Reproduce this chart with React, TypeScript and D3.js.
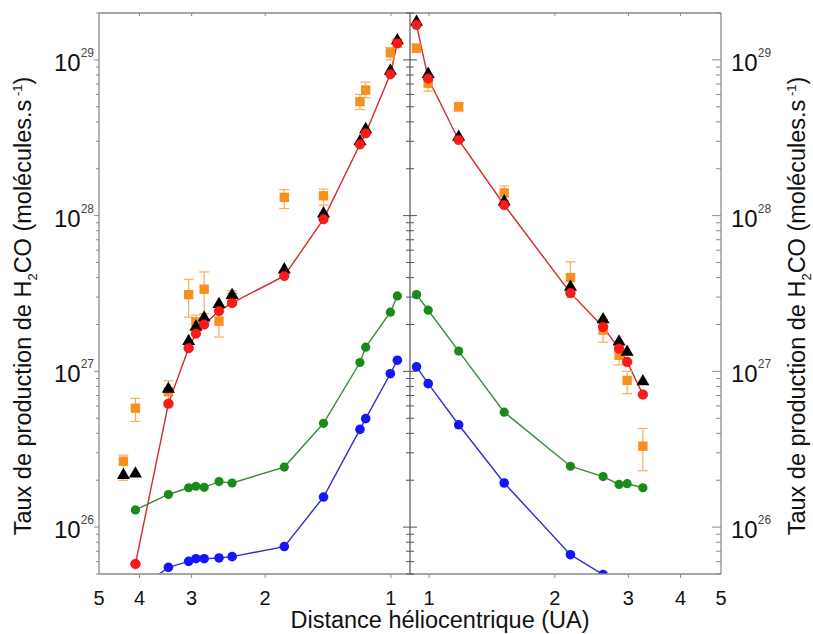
import React from "react";
import * as d3 from "d3";

// Heliocentric distances (AU)
const rPre = [4.37, 4.09, 3.41, 3.05, 2.93, 2.8, 2.58, 2.4, 1.8, 1.45, 1.186, 1.149, 1.003, 0.965];
const rPost = [0.933, 0.995, 1.177, 1.513, 2.18, 2.61, 2.85, 2.98, 3.25];

// Pre-perihelion (left panel)
const redPre = [null, 5.8e25, 6.2e26, 1.41e27, 1.75e27, 2.0e27, 2.44e27, 2.75e27, 4.1e27, 9.5e27, 2.87e28, 3.38e28, 8.1e28, 1.28e29];
const blackPre = [2.15e26, 2.2e26, 7.7e26, 1.56e27, 1.93e27, 2.21e27, 2.7e27, 3.08e27, 4.5e27, 1.03e28, 2.99e28, 3.58e28, 8.5e28, 1.33e29];
const orangePre = [2.65e26, 5.8e26, 7.4e26, 3.11e27, 2.08e27, 3.37e27, 2.1e27, 3.0e27, 1.31e28, 1.34e28, 5.4e28, 6.4e28, 1.11e29, 1.28e29];
const orangePreLo = [2.0e26, 4.77e26, 5.9e26, 2.23e27, 1.85e27, 2.35e27, 1.66e27, 2.7e27, 1.11e28, 1.17e28, 4.8e28, 5.7e28, 1.0e29, 1.2e29];
const orangePreHi = [2.9e26, 6.7e26, 8.7e26, 3.9e27, 2.3e27, 4.35e27, 2.6e27, 3.3e27, 1.47e28, 1.48e28, 6.0e28, 7.2e28, 1.2e29, 1.36e29];
const greenPre = [null, 1.29e26, 1.62e26, 1.79e26, 1.83e26, 1.8e26, 1.96e26, 1.92e26, 2.43e26, 4.64e26, 1.14e27, 1.43e27, 2.4e27, 3.05e27];
const bluePre = [null, 3.85e25, 5.52e25, 6.03e25, 6.27e25, 6.27e25, 6.34e25, 6.46e25, 7.5e25, 1.56e26, 4.24e26, 4.97e26, 9.66e26, 1.18e27];

// Post-perihelion (right panel)
const redPost = [1.68e29, 7.6e28, 3.06e28, 1.17e28, 3.19e27, 1.93e27, 1.4e27, 1.15e27, 7.1e26];
const blackPost = [1.75e29, 8.1e28, 3.2e28, 1.23e28, 3.48e27, 2.15e27, 1.55e27, 1.33e27, 8.6e26];
const orangePost = [1.19e29, 7.08e28, 5.0e28, 1.4e28, 4.0e27, 1.84e27, 1.27e27, 8.75e26, 3.31e26];
const orangePostLo = [1.12e29, 6.3e28, 4.7e28, 1.25e28, 2.98e27, 1.54e27, 1.1e27, 7.2e26, 2.3e26];
const orangePostHi = [1.26e29, 7.6e28, 5.3e28, 1.55e28, 5.05e27, 2.15e27, 1.45e27, 1.0e27, 4.3e26];
const greenPost = [3.11e27, 2.47e27, 1.35e27, 5.47e26, 2.46e26, 2.11e26, 1.88e26, 1.9e26, 1.79e26];
const bluePost = [1.07e27, 8.34e26, 4.54e26, 1.92e26, 6.65e25, 4.96e25, null, null, null];

const xTicks = [1, 2, 3, 4, 5];
const yMajor = [1e26, 1e27, 1e28, 1e29];
const yExp = ["26", "27", "28", "29"];

const FONT = "Arial, 'Liberation Sans', sans-serif";
const C = {
  red: "#ff1a1a",
  redLine: "#d42a2a",
  green: "#1a8a1a",
  greenLine: "#3b8a3b",
  blue: "#1414ff",
  blueLine: "#3030c8",
  orange: "#f7901e",
  err: "#f0b060",
  axis: "#8a8a8a",
};

const W = 813, H = 634;
const top = 13, bottom = 574, left = 99, mid = 410, right = 721;

export default function App() {
  const y = d3.scaleLog().domain([5e25, 2e29]).range([bottom, top]);
  const xL = d3.scaleLog().domain([5, 0.9]).range([left, mid]);
  const xR = d3.scaleLog().domain([0.9, 5]).range([mid, right]);

  const minors: number[] = [];
  for (let e = 25; e <= 29; e++) {
    for (let k = 1; k <= 9; k++) {
      const v = k * Math.pow(10, e);
      if (v >= 5e25 && v <= 2e29 && k !== 1) minors.push(v);
    }
  }

  const tri = d3.symbol().type(d3.symbolTriangle).size(74)();
  const sq = d3.symbol().type(d3.symbolSquare).size(88)();

  const panel = (
    id: string,
    x: d3.ScaleLogarithmic<number, number>,
    rs: number[],
    red: (number | null)[],
    black: (number | null)[],
    orange: (number | null)[],
    lo: (number | null)[],
    hi: (number | null)[],
    green: (number | null)[],
    blue: (number | null)[]
  ) => {
    const pts = (arr: (number | null)[]) =>
      rs.map((r, i) => [r, arr[i]] as [number, number | null]).filter((d) => d[1] != null) as [number, number][];
    const line = d3
      .line<[number, number]>()
      .x((d) => x(d[0]))
      .y((d) => y(d[1]));
    return (
      <g clipPath={`url(#${id})`}>
        <path d={line(pts(red)) || ""} fill="none" stroke={C.redLine} strokeWidth={1.4} />
        <path d={line(pts(green)) || ""} fill="none" stroke={C.greenLine} strokeWidth={1.4} />
        <path d={line(pts(blue)) || ""} fill="none" stroke={C.blueLine} strokeWidth={1.4} />
        {rs.map((r, i) =>
          orange[i] == null ? null : (
            <g key={"e" + i} stroke={C.err} strokeWidth={1.2}>
              <line x1={x(r)} x2={x(r)} y1={y(lo[i] as number)} y2={y(hi[i] as number)} />
              <line x1={x(r) - 5} x2={x(r) + 5} y1={y(lo[i] as number)} y2={y(lo[i] as number)} />
              <line x1={x(r) - 5} x2={x(r) + 5} y1={y(hi[i] as number)} y2={y(hi[i] as number)} />
            </g>
          )
        )}
        {pts(orange).map((d, i) => (
          <path key={"o" + i} d={sq || ""} transform={`translate(${x(d[0])},${y(d[1])})`} fill={C.orange} />
        ))}
        {pts(black).map((d, i) => (
          <path key={"b" + i} d={tri || ""} transform={`translate(${x(d[0])},${y(d[1])})`} fill="#000" />
        ))}
        {pts(red).map((d, i) => (
          <circle key={"r" + i} cx={x(d[0])} cy={y(d[1])} r={4.8} fill={C.red} stroke="#d00000" strokeWidth={0.6} />
        ))}
        {pts(green).map((d, i) => (
          <circle key={"g" + i} cx={x(d[0])} cy={y(d[1])} r={4.6} fill={C.green} />
        ))}
        {pts(blue).map((d, i) => (
          <circle key={"u" + i} cx={x(d[0])} cy={y(d[1])} r={4.8} fill={C.blue} />
        ))}
      </g>
    );
  };

  const ylab = (
    <>
      Taux de production de H
      <tspan fontSize={13} dy={6}>2</tspan>
      <tspan dy={-6}>CO (molécules.s</tspan>
      <tspan fontSize={13} dy={-9}> -1</tspan>
      <tspan dy={9}>)</tspan>
    </>
  );

  return (
    <svg width={W} height={H} style={{ position: "absolute", left: 0, top: 0, background: "#fff" }} fontFamily={FONT}>
      <defs>
        <clipPath id="cl">
          <rect x={left} y={top} width={mid - left} height={bottom - top} />
        </clipPath>
        <clipPath id="cr">
          <rect x={mid} y={top} width={right - mid} height={bottom - top} />
        </clipPath>
      </defs>
      <rect x={0} y={0} width={W} height={H} fill="#fff" />

      {panel("cl", xL, rPre, redPre, blackPre, orangePre, orangePreLo, orangePreHi, greenPre, bluePre)}
      {panel("cr", xR, rPost, redPost, blackPost, orangePost, orangePostLo, orangePostHi, greenPost, bluePost)}

      {/* frame */}
      <g stroke={C.axis} strokeWidth={1.3} fill="none">
        <line x1={left} x2={right} y1={top} y2={top} />
        <line x1={left} x2={right} y1={bottom} y2={bottom} />
        <line x1={left} x2={left} y1={top} y2={bottom} />
        <line x1={right} x2={right} y1={top} y2={bottom} />
      </g>
      <line x1={mid} x2={mid} y1={top} y2={bottom} stroke="#555" strokeWidth={1.2} />

      {/* y ticks */}
      <g stroke={C.axis} strokeWidth={1}>
        {yMajor.map((v) => (
          <g key={"ym" + v}>
            <line x1={left - 5} x2={left} y1={y(v)} y2={y(v)} />
            <line x1={mid - 7} x2={mid + 7} y1={y(v)} y2={y(v)} stroke="#555" />
            <line x1={right - 9} x2={right} y1={y(v)} y2={y(v)} />
          </g>
        ))}
        {minors.map((v) => (
          <g key={"yn" + v}>
            <line x1={left - 3} x2={left} y1={y(v)} y2={y(v)} />
            <line x1={mid - 4} x2={mid + 4} y1={y(v)} y2={y(v)} stroke="#555" />
            <line x1={right - 5} x2={right} y1={y(v)} y2={y(v)} />
          </g>
        ))}
      </g>

      {/* x ticks */}
      <g stroke={C.axis} strokeWidth={1}>
        {xTicks.map((v) => (
          <g key={"xt" + v}>
            {v < 5 && <line x1={xL(v)} x2={xL(v)} y1={bottom} y2={bottom + 4} />}
            {v < 5 && <line x1={xL(v)} x2={xL(v)} y1={top} y2={top + 3} />}
            {v < 5 && <line x1={xR(v)} x2={xR(v)} y1={bottom} y2={bottom + 4} />}
            {v < 5 && <line x1={xR(v)} x2={xR(v)} y1={top} y2={top + 3} />}
          </g>
        ))}
      </g>

      {/* x tick labels */}
      <g fontSize={20} fill="#111" textAnchor="middle">
        {xTicks.map((v) => (
          <text key={"xl" + v} x={xL(v)} y={605}>{v}</text>
        ))}
        {xTicks.map((v) => (
          <text key={"xr" + v} x={xR(v)} y={605}>{v}</text>
        ))}
      </g>

      {/* y tick labels */}
      <g fill="#111">
        {yMajor.map((v, i) => (
          <text key={"lyl" + v} x={94} y={y(v) + 11} textAnchor="end" fontSize={24}>
            10<tspan fontSize={12} dy={-14} fill="#444">{yExp[i]}</tspan>
          </text>
        ))}
        {yMajor.map((v, i) => (
          <text key={"lyr" + v} x={731} y={y(v) + 11} textAnchor="start" fontSize={24}>
            10<tspan fontSize={12} dy={-14} fill="#444">{yExp[i]}</tspan>
          </text>
        ))}
      </g>

      {/* axis titles */}
      <text x={440} y={628} textAnchor="middle" fontSize={23.5} fill="#111">
        Distance héliocentrique (UA)
      </text>
      <text transform="translate(31,306) rotate(-90)" textAnchor="middle" fontSize={23.5} fill="#111">
        {ylab}
      </text>
      <text transform="translate(805,306) rotate(-90)" textAnchor="middle" fontSize={23.5} fill="#111">
        {ylab}
      </text>
    </svg>
  );
}
